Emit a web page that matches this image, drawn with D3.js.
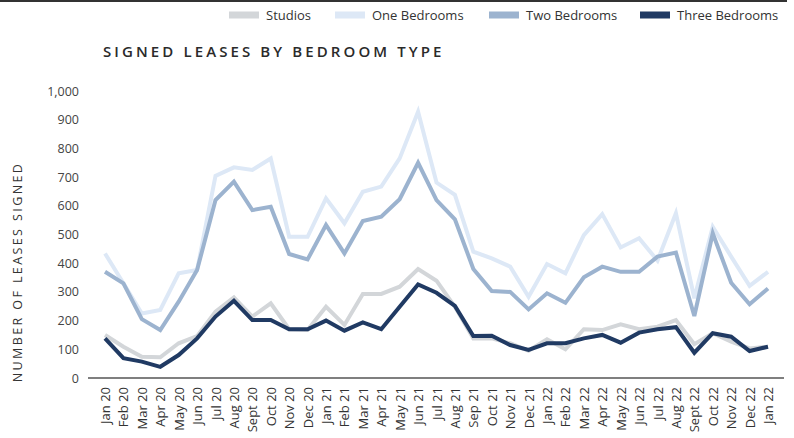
<!DOCTYPE html>
<html>
<head>
<meta charset="utf-8">
<script src="https://cdn.jsdelivr.net/npm/d3@7"></script>
<style>
  body { margin: 0; background: #fff; }
  svg { display: block; font-family: "Open Sans", sans-serif; }
</style>
</head>
<body>
<svg id="chart" width="794" height="438"></svg>
<script>
// month labels (the last one reads "Jan 22" in the source too)
var months = ["Jan 20","Feb 20","Mar 20","Apr 20","May 20","Jun 20","Jul 20","Aug 20","Sept 20","Oct 20","Nov 20","Dec 20",
  "Jan 21","Feb 21","Mar 21","Apr 21","May 21","Jun 21","Jul 21","Aug 21","Sep 21","Oct 21","Nov 21","Dec 21",
  "Jan 22","Feb 22","Mar 22","Apr 22","May 22","Jun 22","Jul 22","Aug 22","Sept 22","Oct 22","Nov 22","Dec 22","Jan 22"];

var studios = [150,109,74,72,121,146,231,281,214,260,170,167,
  248,185,293,293,318,380,339,248,138,138,121,95,
  135,100,170,167,187,170,179,202,118,156,127,103,109];
var oneBed = [434,330,225,237,365,376,704,734,725,765,492,492,
  626,539,649,667,765,928,681,638,440,417,388,283,
  397,365,498,571,455,487,409,574,278,527,423,321,370];
var twoBed = [370,330,205,167,266,376,620,684,585,597,432,413,
  533,434,547,562,623,750,620,553,380,303,300,239,
  295,262,351,388,370,370,423,437,216,504,332,257,312];
var threeBed = [138,69,57,39,80,138,214,269,202,202,170,170,
  200,165,194,170,248,326,297,251,146,147,115,98,
  121,121,138,150,123,158,170,177,88,156,144,94,109];

var yTicks = [0,100,200,300,400,500,600,700,800,900,1000];

var series = [
  {name: "Studios", values: studios, color: "#d3d6d9"},
  {name: "One Bedrooms", values: oneBed, color: "#dde8f6"},
  {name: "Two Bedrooms", values: twoBed, color: "#9cb3cf"},
  {name: "Three Bedrooms", values: threeBed, color: "#203a63"}
];

var svg = d3.select("#chart");

// top rule
svg.append("line")
  .attr("x1", 0).attr("x2", 787)
  .attr("y1", 1).attr("y2", 1)
  .style("stroke", "#333").style("stroke-width", 2);

var x = d3.scaleLinear().domain([0, months.length - 1]).range([105, 768]);
var y = d3.scaleLinear().domain([0, 1000]).range([378, 91]);

// legend
var legendX = [229, 335, 489, 640];
var legend = svg.selectAll(".legend")
  .data(series)
  .enter().append("g")
  .attr("class", "legend")
  .attr("transform", function(d, i) { return "translate(" + legendX[i] + ",15)"; });
legend.append("rect")
  .attr("x", 0).attr("y", -3.5)
  .attr("width", 30).attr("height", 7)
  .style("fill", function(d) { return d.color; });
legend.append("text")
  .attr("x", 37).attr("y", 5)
  .style("font-size", "13px")
  .style("fill", "#333")
  .text(function(d) { return d.name; });

// title
svg.append("text")
  .attr("x", 103).attr("y", 57)
  .style("font-size", "15px")
  .style("font-weight", "600")
  .style("letter-spacing", "3.1px")
  .style("fill", "#2a2a2a")
  .text("SIGNED LEASES BY BEDROOM TYPE");

// y axis label
svg.append("text")
  .attr("transform", "translate(22,272) rotate(-90)")
  .attr("text-anchor", "middle")
  .style("font-size", "12.5px")
  .style("letter-spacing", "2.4px")
  .style("fill", "#333")
  .text("NUMBER OF LEASES SIGNED");

// y tick labels
svg.append("g")
  .attr("class", "axis axis--y")
  .attr("transform", "translate(79,0)")
  .call(d3.axisLeft(y).tickValues(yTicks).tickSize(0).tickPadding(0).tickFormat(d3.format(",")))
  .call(function(g) { g.select(".domain").remove(); })
  .selectAll("text")
  .style("font-family", "'Open Sans', sans-serif")
  .style("font-size", "12.5px")
  .style("fill", "#444");

// x axis
var xAxis = svg.append("g")
  .attr("class", "axis axis--x")
  .attr("transform", "translate(0,378)")
  .call(d3.axisBottom(x).tickValues(d3.range(months.length)).tickSize(0)
    .tickFormat(function(i) { return months[i]; }));
xAxis.select(".domain").remove();
xAxis.append("line")
  .attr("x1", 88).attr("x2", 784)
  .style("stroke", "#555").style("stroke-width", 1.5);
xAxis.selectAll(".tick text")
  .attr("transform", "rotate(-90)")
  .attr("x", -9).attr("y", 0).attr("dy", "0.35em")
  .attr("text-anchor", "end")
  .style("font-family", "'Open Sans', sans-serif")
  .style("font-size", "13px")
  .style("fill", "#333");

// lines
var line = d3.line()
  .x(function(d, i) { return x(i); })
  .y(function(d) { return y(d); });

svg.selectAll(".series")
  .data(series)
  .enter().append("path")
  .attr("class", "series")
  .attr("d", function(d) { return line(d.values); })
  .style("fill", "none")
  .style("stroke", function(d) { return d.color; })
  .style("stroke-width", 4)
  .style("stroke-linejoin", "miter");
</script>
</body>
</html>
